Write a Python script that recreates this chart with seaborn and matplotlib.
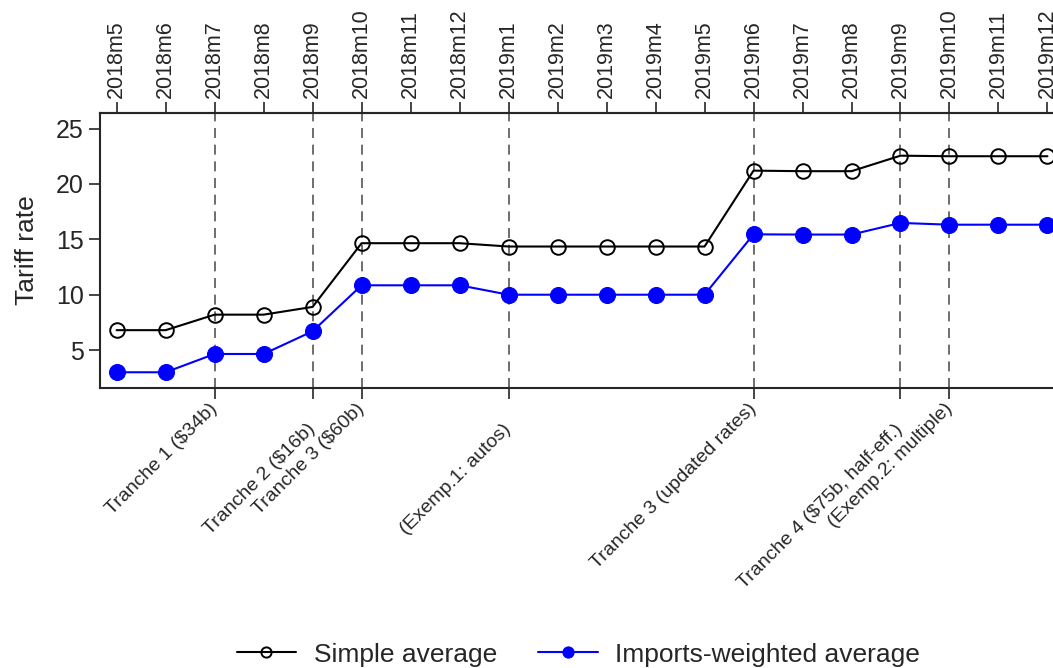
import matplotlib
matplotlib.use("Agg")
import matplotlib.pyplot as plt
import numpy as np
import pandas as pd
import seaborn as sns

# Monthly tariff rates (percent)
months = [
    "2018m5", "2018m6", "2018m7", "2018m8", "2018m9", "2018m10", "2018m11", "2018m12",
    "2019m1", "2019m2", "2019m3", "2019m4", "2019m5", "2019m6", "2019m7", "2019m8",
    "2019m9", "2019m10", "2019m11", "2019m12",
]
simple_avg = [
    6.8, 6.8, 8.2, 8.2, 8.9, 14.65, 14.65, 14.65,
    14.35, 14.35, 14.35, 14.35, 14.35, 21.2, 21.15, 21.15,
    22.55, 22.5, 22.5, 22.5,
]
weighted_avg = [
    3.0, 3.0, 4.65, 4.65, 6.7, 10.85, 10.85, 10.85,
    10.0, 10.0, 10.0, 10.0, 10.0, 15.45, 15.43, 15.43,
    16.48, 16.32, 16.32, 16.32,
]

# Policy events drawn as vertical dashed lines
event_months = ["2018m7", "2018m9", "2018m10", "2019m1", "2019m6", "2019m9", "2019m10"]
event_labels = [
    "Tranche 1 ($34b)",
    "Tranche 2 ($16b)",
    "Tranche 3 ($60b)",
    "(Exemp.1: autos)",
    "Tranche 3 (updated rates)",
    "Tranche 4 ($75b, half-eff.)",
    "(Exemp.2: multiple)",
]

df = pd.DataFrame({
    "month": months,
    "pos": np.arange(len(months)),
    "simple": simple_avg,
    "weighted": weighted_avg,
})
event_pos = [months.index(m) for m in event_months]

sns.set_style("ticks")
plt.rcParams["font.family"] = ["Liberation Sans", "DejaVu Sans"]

fig = plt.figure(figsize=(10.53, 6.68), dpi=100)
ax = fig.add_axes([0.0954, 0.4195, 0.9147, 0.4113])

for p in event_pos:
    ax.axvline(p, color="#555555", lw=1.2, ls=(0, (6, 4)), zorder=1)

sns.lineplot(data=df, x="pos", y="simple", color="black", lw=1.5,
             marker="o", markersize=10.5, markerfacecolor="none",
             markeredgecolor="black", markeredgewidth=1.4,
             label="Simple average", ax=ax, zorder=3)
sns.lineplot(data=df, x="pos", y="weighted", color="blue", lw=1.5,
             marker="o", markersize=11.5, markerfacecolor="blue",
             markeredgecolor="blue", label="Imports-weighted average", ax=ax, zorder=3)

ax.set_xlim(-0.33, len(months) - 1 + 0.33)
ax.set_ylim(1.6, 26.4)
ax.set_yticks([5, 10, 15, 20, 25])
ax.tick_params(axis="y", labelsize=18, length=8, width=1.2, pad=4)
ax.set_ylabel("Tariff rate", fontsize=19, labelpad=12)
ax.set_xlabel("")

ax.set_xticks(event_pos)
ax.set_xticklabels(event_labels, rotation=45, ha="right", va="center",
                   rotation_mode="anchor", fontsize=14)
ax.tick_params(axis="x", length=8, width=1.2, pad=5)
# every second event label sits a bit lower, as in the source figure
for i, tick in enumerate(ax.xaxis.get_major_ticks()):
    tick.set_pad(5 if i % 2 == 0 else 20)

top = ax.secondary_xaxis("top")
top.set_xticks(df["pos"])
top.set_xticklabels(months, rotation=90, fontsize=15.5)
top.tick_params(length=8, width=1.2, pad=3)

for side in ["left", "bottom", "top", "right"]:
    ax.spines[side].set_linewidth(1.5)
top.spines["top"].set_linewidth(1.5)

ax.get_legend().remove()
handles, labels = ax.get_legend_handles_labels()
fig.legend(handles, labels, loc="center", bbox_to_anchor=(0.549, 0.02), ncol=2,
           frameon=False, fontsize=19, markerscale=0.7, handlelength=2.27,
           handletextpad=0.65, columnspacing=1.55)

fig.savefig("out.png", dpi=100)
